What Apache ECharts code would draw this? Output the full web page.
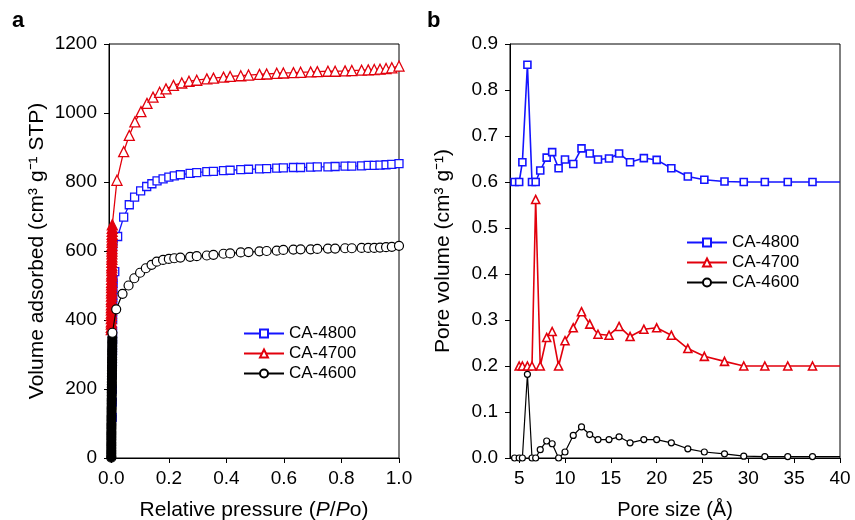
<!DOCTYPE html>
<html><head><meta charset="utf-8">
<script src="https://cdn.jsdelivr.net/npm/echarts@6/dist/echarts.min.js"></script>
<style>html,body{margin:0;padding:0;background:#fff}#c{width:855px;height:520px}</style>
</head><body><div id="c"></div>
<script>
const seriesNames = ['CA-4800', 'CA-4700', 'CA-4600'];

// ---- Panel a: N2 isotherms (relative pressure vs volume adsorbed) ----
const p4800 = [0.0030,0.0032,0.0034,0.0036,0.0038,0.0040,0.0042,0.0044,0.0046,0.0048,0.0050,0.0052,0.0054,0.0056,0.0058,0.012,
  0.022,0.043,0.0625,0.081,0.102,0.123,0.141,0.159,0.18,0.2,0.219,0.24,0.274,0.297,0.332,0.355,0.39,0.413,0.45,0.477,0.515,0.54,0.575,0.598,0.633,0.658,0.693,0.716,0.753,0.778,0.8125,0.836,0.87,0.893,0.914,0.934,0.955,0.975,1.0];
const v4800 = [118,162,198,243,276,309,342,368,401,427,448,471,489,506,517,540,
  642,698,734,756,774,787,795,803,809,814,818,821,825,827,830,831,833,834,836,837,838,839,840,841,842,842,843,844,844,845,846,846,847,848,848,849,850,851,853];

const p4700 = [0.00002,0.00004,0.00006,0.00009,0.00012,0.00016,0.0002,0.00026,0.00033,0.0004,0.0005,0.0006,0.0007,0.0008,0.0009,0.001,0.0011,0.0012,0.0013,0.0014,0.0015,0.0016,0.0017,0.0018,0.0019,0.002,0.0021,0.0022,0.0023,0.0024,0.0025,0.0026,0.0027,0.0028,0.0029,0.003,0.0032,0.0035,
  0.0197,0.043,0.0625,0.082,0.103,0.124,0.145,0.168,0.19,0.216,0.245,0.27,0.297,0.332,0.355,0.39,0.413,0.45,0.477,0.515,0.54,0.575,0.598,0.633,0.658,0.693,0.716,0.753,0.778,0.8125,0.836,0.87,0.893,0.914,0.934,0.955,0.975,1.0];
const v4700 = [372,379,388,395,404,413,420,429,436,444,453,460,469,478,485,494,502,509,518,527,534,543,551,558,567,576,583,592,600,607,616,625,632,641,648,657,666,676,
  805,888,935,974,1004,1028,1046,1060,1070,1080,1087,1092,1095,1099,1101,1104,1106,1108,1110,1112,1113,1115,1116,1117,1118,1119,1120,1121,1121,1122,1123,1124,1125,1126,1127,1129,1131,1136];

const p4600 = [0.00001,0.00002,0.00003,0.00005,0.00007,0.0001,0.00013,0.00016,0.0002,0.00025,0.0003,0.00036,0.00043,0.0005,0.0006,0.0007,0.0008,0.0009,0.001,0.0011,0.0012,0.0013,0.0014,0.0015,0.0016,0.0017,0.0018,0.0019,0.002,0.0021,0.0022,0.0023,0.0024,0.0025,0.0026,0.0027,0.0028,0.0029,0.003,0.0031,0.0032,0.0033,0.0034,0.0035,0.0036,0.0038,
  0.017,0.039,0.06,0.08,0.10,0.12,0.14,0.158,0.18,0.2,0.219,0.24,0.274,0.297,0.332,0.355,0.39,0.413,0.45,0.477,0.515,0.54,0.575,0.598,0.633,0.658,0.693,0.716,0.753,0.778,0.8125,0.836,0.87,0.893,0.914,0.934,0.955,0.975,1.0];
const v4600 = [1,6,14,21,29,37,44,53,61,69,76,85,93,100,109,117,124,133,141,148,157,165,172,181,189,196,205,213,220,229,237,244,253,261,268,277,285,292,301,309,316,325,333,340,349,363,
  431,476,500,521,537,550,560,569,574,577,579,581,583,585,587,589,592,593,596,597,599,600,601,603,604,605,605,606,607,607,608,608,609,609,609,610,611,612,615];

const ticksA_x = [0, 0.2, 0.4, 0.6, 0.8, 1.0];

// ---- Panel b: pore size distribution ----
const poreSize = [4.5,5.0,5.35,5.9,6.4,6.8,7.3,8.0,8.6,9.3,10.0,10.9,11.8,12.7,13.6,14.8,15.9,17.1,18.6,20.0,21.6,23.4,25.2,27.4,29.5,31.8,34.3,37.0,40.0];
const pv4800 = [0.600,0.600,0.643,0.855,0.600,0.600,0.625,0.653,0.665,0.630,0.649,0.639,0.673,0.662,0.649,0.651,0.662,0.643,0.652,0.648,0.630,0.612,0.605,0.601,0.600,0.600,0.600,0.600,0.600];
const pv4700 = [null,0.200,0.200,0.200,0.200,0.562,0.200,0.262,0.275,0.200,0.255,0.283,0.318,0.291,0.269,0.267,0.286,0.264,0.280,0.283,0.267,0.238,0.221,0.210,0.200,0.200,0.200,0.200,0.200];
const pv4600 = [0.000,0.000,0.000,0.182,0.000,0.000,0.018,0.037,0.031,0.000,0.013,0.049,0.0675,0.051,0.040,0.040,0.046,0.033,0.040,0.040,0.033,0.020,0.013,0.009,0.004,0.003,0.003,0.003,0.003];
const ticksB_x = [5, 10, 15, 20, 25, 30, 35, 40];

const BLUE = '#1414ff', RED = '#e2000c', BLACK = '#000000';
const FONT = 'Liberation Sans, Arial, Helvetica, sans-serif';

// low-pressure micropore-filling points are drawn filled (they overlap into a solid column)
function zipIso(xs, ys, color, fillBelow) {
  return xs.map((x, i) => {
    const item = { value: [x, ys[i]] };
    if (x < fillBelow) item.itemStyle = { color: color };
    return item;
  });
}
function pore(ys) {
  const out = [];
  poreSize.forEach((x, i) => {
    if (ys[i] === null) return;
    const item = { value: [x, ys[i]] };
    if (x >= 40) item.symbol = 'none';
    out.push(item);
  });
  return out;
}

function axisBase(extra) {
  return Object.assign({
    type: 'value',
    axisLine: { show: true, onZero: false, lineStyle: { color: '#000', width: 1 } },
    axisTick: { show: true, inside: false, length: 5, lineStyle: { color: '#000', width: 1 } },
    axisLabel: { color: '#000', fontSize: 19, fontFamily: FONT, margin: 12 },
    splitLine: { show: false },
    nameLocation: 'middle',
    nameTextStyle: { color: '#000', fontSize: 21, fontFamily: FONT }
  }, extra);
}

const chart = echarts.init(document.getElementById('c'), null, { renderer: 'canvas' });

function lineSeries(name, data, xi, symbol, size, color, lw, z) {
  return {
    type: 'line', name, data, xAxisIndex: xi, yAxisIndex: xi,
    symbol, symbolSize: size, showSymbol: true, silent: true, z,
    lineStyle: { color, width: lw },
    itemStyle: { color: '#fff', borderColor: color, borderWidth: lw },
    emphasis: { disabled: true }
  };
}

const option = {
  animation: false,
  backgroundColor: '#fff',
  textStyle: { fontFamily: FONT },
  grid: [
    { left: 109, right: 456, top: 44, bottom: 62, show: true, borderColor: '#000', borderWidth: 1, backgroundColor: 'transparent', containLabel: false, outerBoundsMode: 'none' },
    { left: 510, right: 15, top: 44, bottom: 62, show: true, borderColor: '#000', borderWidth: 1, backgroundColor: 'transparent', containLabel: false, outerBoundsMode: 'none' }
  ],
  xAxis: [
    axisBase({
      gridIndex: 0, min: -0.008, max: 1.0,
      axisTick: { show: true, inside: false, length: 5, customValues: ticksA_x, lineStyle: { color: '#000' } },
      axisLabel: { color: '#000', fontSize: 19, fontFamily: FONT, margin: 11, customValues: ticksA_x, formatter: v => v.toFixed(1) },
      name: 'Relative pressure ({i|P}/{i|P}o)', nameGap: 42,
      nameTextStyle: { color: '#000', fontSize: 21, fontFamily: FONT, rich: { i: { fontStyle: 'italic', fontSize: 21, fontFamily: FONT, color: '#000' } } }
    }),
    axisBase({
      gridIndex: 1, min: 4, max: 40,
      axisTick: { show: true, inside: false, length: 5, customValues: ticksB_x, lineStyle: { color: '#000' } },
      axisLabel: { color: '#000', fontSize: 19, fontFamily: FONT, margin: 11, customValues: ticksB_x },
      name: 'Pore size (Å)', nameGap: 42,
      nameTextStyle: { color: '#000', fontSize: 20, fontFamily: FONT }
    })
  ],
  yAxis: [
    axisBase({
      gridIndex: 0, min: 0, max: 1200, interval: 200,
      axisLabel: { color: '#000', fontSize: 19, fontFamily: FONT, margin: 12, formatter: v => String(v) },
      name: 'Volume adsorbed (cm³ g⁻¹ STP)', nameGap: 61
    }),
    axisBase({
      gridIndex: 1, min: 0, max: 0.9, interval: 0.1,
      axisLabel: { color: '#000', fontSize: 19, fontFamily: FONT, margin: 12, formatter: v => v.toFixed(1) },
      name: 'Pore volume (cm³ g⁻¹)', nameGap: 56
    })
  ],
  legend: [
    { orient: 'vertical', left: 238, top: 319, itemWidth: 40, itemHeight: 10, itemGap: 1, selectedMode: false,
      textStyle: { color: '#000', fontSize: 17, fontFamily: FONT, lineHeight: 19 }, data: seriesNames },
    { orient: 'vertical', left: 681, top: 228, itemWidth: 40, itemHeight: 10, itemGap: 1, selectedMode: false,
      textStyle: { color: '#000', fontSize: 17, fontFamily: FONT, lineHeight: 19 }, data: seriesNames }
  ],
  graphic: [
    { type: 'text', left: 12, top: 10, style: { text: 'a', fontSize: 22, fontWeight: 'bold', fontFamily: FONT, fill: '#000' } },
    { type: 'text', left: 427, top: 10, style: { text: 'b', fontSize: 22, fontWeight: 'bold', fontFamily: FONT, fill: '#000' } }
  ],
  series: [
    lineSeries('CA-4800', zipIso(p4800, v4800, BLUE, 0.007), 0, 'rect', 8, BLUE, 1.3, 2),
    lineSeries('CA-4700', zipIso(p4700, v4700, RED, 0.004), 0, 'triangle', 10, RED, 1.3, 3),
    lineSeries('CA-4600', zipIso(p4600, v4600, BLACK, 0.0037), 0, 'circle', 9, BLACK, 1.2, 4),
    lineSeries('CA-4800', pore(pv4800), 1, 'rect', 7, BLUE, 1.6, 2),
    lineSeries('CA-4700', pore(pv4700), 1, 'triangle', 8, RED, 1.6, 3),
    lineSeries('CA-4600', pore(pv4600), 1, 'circle', 6, BLACK, 1.2, 4)
  ]
};
chart.setOption(option);
</script>
</body></html>
